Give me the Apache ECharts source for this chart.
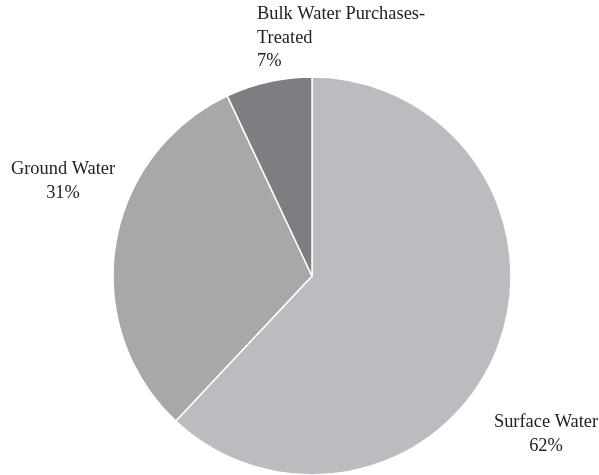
<!DOCTYPE html>
<html><head><meta charset="utf-8">
<script src="https://cdn.jsdelivr.net/npm/echarts@6/dist/echarts.min.js"></script>
<style>html,body{margin:0;padding:0;background:#fff}#c{width:599px;height:475px}</style>
</head><body><div id="c"></div>
<script>
const categories = ['Surface Water', 'Ground Water', 'Bulk Water Purchases-\nTreated'];
const values = [62, 31, 7];
const colors = ['#bcbcc0', '#a8a8ab', '#7e7e82'];
const labelPos = [
  {x: 546, y: 434, align: 'center'},
  {x: 63, y: 181, align: 'center'},
  {x: 257, y: 38, align: 'left'}
];
const chart = echarts.init(document.getElementById('c'));
chart.setOption({
  animation: false,
  series: [{
    type: 'pie',
    center: [312, 276],
    radius: 199,
    startAngle: 90,
    clockwise: true,
    data: categories.map((n, i) => ({name: n, value: values[i], itemStyle: {color: colors[i]},
      label: {align: labelPos[i].align}})),
    itemStyle: {borderColor: '#fff', borderWidth: 1.5},
    label: {
      show: true, position: 'outside', overflow: 'none', width: 300,
      formatter: p => p.name + '\n' + Math.round(p.percent) + '%',
      fontFamily: 'Liberation Serif, Times New Roman, serif',
      fontSize: 18.4, lineHeight: 23.5, color: '#222'
    },
    labelLine: {show: false},
    labelLayout: p => ({x: labelPos[p.dataIndex].x, y: labelPos[p.dataIndex].y,
      align: labelPos[p.dataIndex].align, verticalAlign: 'middle'}),
    emphasis: {disabled: true}
  }]
});
</script></body></html>
